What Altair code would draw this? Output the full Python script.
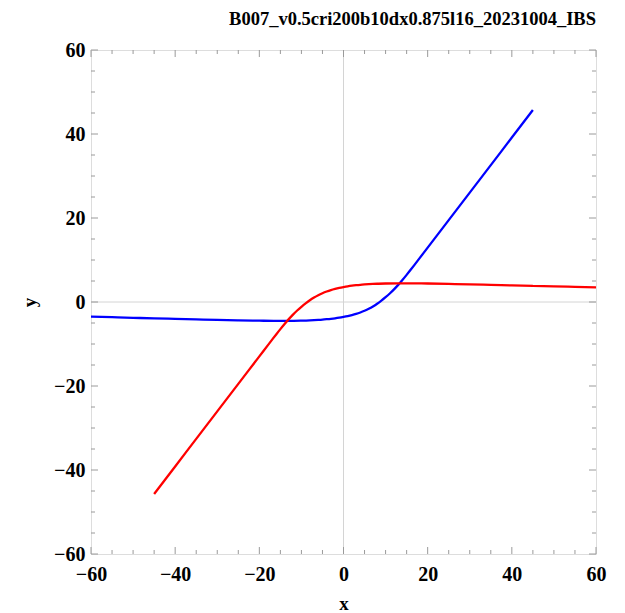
import altair as alt
import pandas as pd

# ---- data ----
red_x = [-45, -40, -35, -30, -25, -20, -18, -17, -16, -15, -14, -13, -12, -11, -10, -9, -8, -7, -6, -5,
         -4, -3, -2, -1, 0, 1, 2, 3, 4, 5, 6, 7, 8, 10, 13, 16, 20, 25, 30, 35, 40, 45, 50, 55, 60]
red_y = [-45.7, -39.15, -32.6, -26.05, -19.5, -12.95, -10.33, -9.02, -7.72, -6.46, -5.24, -4.08, -3.0, -2.03, -1.15,
         -0.33, 0.41, 1.06, 1.62, 2.09, 2.49, 2.83, 3.11, 3.35, 3.55, 3.73, 3.88, 4.0, 4.1, 4.18, 4.25, 4.3, 4.34,
         4.4, 4.45, 4.44, 4.4, 4.3, 4.2, 4.08, 3.96, 3.84, 3.72, 3.6, 3.5]

blue_x = [-60, -55, -50, -45, -40, -35, -30, -25, -20, -16, -13, -10, -8, -7, -6, -5, -4, -3, -2, -1, 0,
          1, 2, 3, 4, 5, 6, 7, 8, 9, 10, 11, 12, 13, 14, 15, 16, 17, 18, 20, 25, 30, 35, 40, 45]
blue_y = [-3.5, -3.62, -3.76, -3.9, -4.02, -4.14, -4.26, -4.36, -4.45, -4.5, -4.5, -4.44, -4.37, -4.32, -4.26, -4.19,
          -4.1, -4.0, -3.88, -3.73, -3.55, -3.35, -3.11, -2.83, -2.49, -2.09, -1.62, -1.06, -0.41, 0.33, 1.15,
          2.03, 3.0, 4.08, 5.24, 6.46, 7.72, 9.02, 10.33, 12.95, 19.5, 26.05, 32.6, 39.15, 45.7]

major_ticks = [-60, -40, -20, 0, 20, 40, 60]
minor_ticks = [-55, -50, -45, -35, -30, -25, -15, -10, -5, 5, 10, 15, 25, 30, 35, 45, 50, 55]

title_text = "B007_v0.5cri200b10dx0.875l16_20231004_IBS"

W, H = 505, 504
FONT = "Liberation Serif"
FRAME = "#9a9a9a"

lines = pd.concat([
    pd.DataFrame({"x": blue_x, "y": blue_y, "series": "blue", "o": range(len(blue_x))}),
    pd.DataFrame({"x": red_x, "y": red_y, "series": "red", "o": range(len(red_x))}),
], ignore_index=True)

major_df = pd.DataFrame({"x": major_ticks, "y": major_ticks})
minor_df = pd.DataFrame({"x": minor_ticks, "y": minor_ticks})
zero_df = pd.DataFrame({"x": [0], "y": [0]})

xs = alt.Scale(domain=[-60, 60], nice=False, zero=False)
ys = alt.Scale(domain=[-60, 60], nice=False, zero=False)

axis_common = dict(ticks=False, domain=False, grid=False, values=major_ticks,
                   labelFont=FONT, labelFontWeight="bold", labelFontSize=20, labelColor="black",
                   titleFont=FONT, titleFontWeight="bold", titleFontSize=19, titleColor="black")
xaxis = alt.Axis(labelPadding=10, titlePadding=10, labelFlush=False, **axis_common)
yaxis = alt.Axis(labelPadding=6, titlePadding=14, labelFlush=False, titleAngle=270, **axis_common)

def X(field="x"):
    return alt.X(f"{field}:Q", scale=xs, axis=xaxis, title="x")

def Y(field="y"):
    return alt.Y(f"{field}:Q", scale=ys, axis=yaxis, title="y")

base_layers = []

# gray zero axes
base_layers.append(alt.Chart(zero_df).mark_rule(color="#d4d4d4", strokeWidth=1).encode(
    x=X(), y=alt.value(0), y2=alt.value(H)))
base_layers.append(alt.Chart(zero_df).mark_rule(color="#d4d4d4", strokeWidth=1).encode(
    y=Y(), x=alt.value(0), x2=alt.value(W)))

# frame ticks (inward) on all four sides
for df_, L in ((major_df, 7), (minor_df, 4)):
    base_layers.append(alt.Chart(df_).mark_rule(color=FRAME, strokeWidth=1).encode(
        x=X(), y=alt.value(H), y2=alt.value(H - L)))
    base_layers.append(alt.Chart(df_).mark_rule(color=FRAME, strokeWidth=1).encode(
        x=X(), y=alt.value(0), y2=alt.value(L)))
    base_layers.append(alt.Chart(df_).mark_rule(color=FRAME, strokeWidth=1).encode(
        y=Y(), x=alt.value(0), x2=alt.value(L)))
    base_layers.append(alt.Chart(df_).mark_rule(color=FRAME, strokeWidth=1).encode(
        y=Y(), x=alt.value(W), x2=alt.value(W - L)))

curves = alt.Chart(lines).mark_line(strokeWidth=2.3, interpolate="monotone").encode(
    x=X(), y=Y(),
    color=alt.Color("series:N", scale=alt.Scale(domain=["blue", "red"], range=["#0000ff", "#ff0000"]), legend=None),
    order="o:Q",
    detail="series:N",
)

chart = alt.layer(*base_layers, curves).properties(
    width=W, height=H,
    title=alt.TitleParams(title_text, font=FONT, fontWeight="bold", fontSize=18.5, color="black",
                          anchor="end", frame="group", offset=12),
    autosize=alt.AutoSizeParams(type="none"),
    padding={"left": 91, "top": 50, "right": 29, "bottom": 59},
).configure_view(stroke=FRAME, strokeWidth=1).configure(background="white")

chart.save("out.html", embed_options={"renderer": "svg", "actions": False})
